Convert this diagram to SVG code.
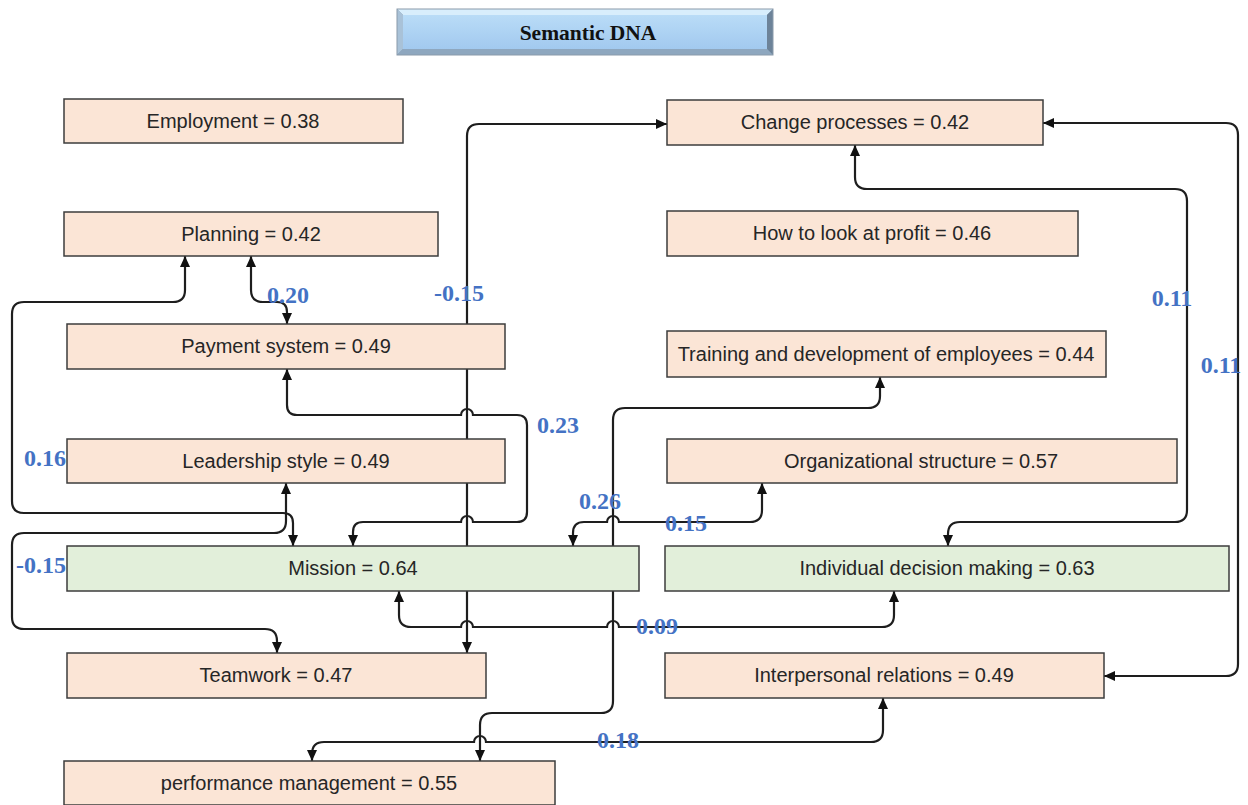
<svg xmlns="http://www.w3.org/2000/svg" width="1248" height="805" viewBox="0 0 1248 805">
<style>
.bx{fill:#fbe5d6;stroke:#3c3c3c;stroke-width:1.5}
.gr{fill:#e2efda;stroke:#3c3c3c;stroke-width:1.5}
.t{font-family:"Liberation Sans",Arial,sans-serif;font-size:20px;fill:#262626;text-anchor:middle}
.lb{font-family:"Liberation Serif","Times New Roman",serif;font-size:24px;font-weight:bold;fill:#4472c4;text-anchor:middle}
.c{fill:none;stroke:#1e1e1e;stroke-width:2.2;marker-start:url(#ah);marker-end:url(#ah)}
</style>
<defs>
<marker id="ah" markerUnits="userSpaceOnUse" markerWidth="12" markerHeight="11" refX="11" refY="5" orient="auto-start-reverse" viewBox="0 0 12 10">
<path d="M0,0 L11,5 L0,10 z" fill="#111"/>
</marker>
<linearGradient id="tg" x1="0" y1="0" x2="0" y2="1">
<stop offset="0" stop-color="#b9dcf7"/>
<stop offset="1" stop-color="#a2c9ef"/>
</linearGradient>
</defs>
<rect width="1248" height="805" fill="#fff"/>

<g id="title">
<rect x="397" y="9" width="376" height="46" fill="#7f95aa"/>
<polygon points="397,9 773,9 767,15 403,15" fill="#d8eefc"/>
<polygon points="397,9 403,15 403,49 397,55" fill="#a9c2d8"/>
<polygon points="773,9 767,15 767,49 773,55" fill="#6d8399"/>
<polygon points="397,55 403,49 767,49 773,55" fill="#8ea7bf"/>
<rect x="403" y="15" width="364" height="34" fill="url(#tg)"/>
<rect x="397" y="9" width="376" height="46" fill="none" stroke="#8a9aaa" stroke-width="1"/>
<text x="588" y="40" font-family="Liberation Serif,'Times New Roman',serif" font-size="21.5" font-weight="bold" fill="#111" text-anchor="middle">Semantic DNA</text>
</g>

<g id="connectors">
<path class="c" d="M467,653 L467,136 Q467,124 479,124 L667,124"/>
<path class="c" d="M185,256 L185,290 Q185,302 173,302 L24,302 Q12,302 12,314 L12,501 Q12,513 24,513 L283,513 Q293,513 293,523 L293,546"/>
<path class="c" d="M251,256 L251,290 Q251,302 263,302 L277,302 Q287,302 287,312 L287,324"/>
<path class="c" d="M287,369 L287,405 Q287,415 297,415 L461,415 A6,6 0 0 1 473,415 L517,415 Q527,415 527,425 L527,512 Q527,522 517,522 L473,522 A6,6 0 0 0 461,522 L363,522 Q353,522 353,532 L353,546"/>
<path class="c" d="M286,483 L286,521 Q286,533 274,533 L24,533 Q12,533 12,545 L12,617 Q12,629 24,629 L265,629 Q277,629 277,641 L277,653"/>
<path class="c" d="M880,377 L880,396 Q880,408 868,408 L625,408 Q613,408 613,420 L613,701 Q613,713 601,713 L492,713 Q480,713 480,725 L480,761"/>
<path class="c" d="M399,591 L399,615 Q399,627 411,627 L461,627 A6,6 0 0 1 473,627 L607,627 A6,6 0 0 1 619,627 L882,627 Q894,627 894,615 L894,591"/>
<path class="c" d="M573,546 L573,533 Q573,522 584,522 L607,522 A6,6 0 0 1 619,522 L750,522 Q762,522 762,510 L762,483"/>
<path class="c" d="M855,145 L855,177 Q855,189 867,189 L1175,189 Q1187,189 1187,201 L1187,510 Q1187,522 1175,522 L960,522 Q948,522 948,534 L948,546"/>
<path class="c" d="M1043,123 L1226,123 Q1238,123 1238,135 L1238,664 Q1238,676 1226,676 L1104,676"/>
<path class="c" d="M312,761 L312,754 Q312,742 324,742 L474,742 A6,6 0 0 1 486,742 L871,742 Q883,742 883,730 L883,698"/>
</g>

<g id="labels">
<text class="lb" x="288" y="303">0.20</text>
<text class="lb" x="459" y="301">-0.15</text>
<text class="lb" x="45" y="466">0.16</text>
<text class="lb" x="558" y="433">0.23</text>
<text class="lb" x="600" y="509">0.26</text>
<text class="lb" x="686" y="531">0.15</text>
<text class="lb" x="41" y="573">-0.15</text>
<text class="lb" x="657" y="634">0.09</text>
<text class="lb" x="618" y="748">0.18</text>
<text class="lb" x="1172" y="306">0.11</text>
<text class="lb" x="1221" y="373">0.11</text>
</g>

<g id="n-employment"><rect class="bx" x="64" y="99" width="339" height="44"/><text class="t" x="233" y="128">Employment = 0.38</text></g>
<g id="n-change"><rect class="bx" x="667" y="100" width="376" height="45"/><text class="t" x="855" y="129">Change processes = 0.42</text></g>
<g id="n-planning"><rect class="bx" x="64" y="212" width="374" height="44"/><text class="t" x="251" y="241">Planning = 0.42</text></g>
<g id="n-profit"><rect class="bx" x="667" y="211" width="411" height="45"/><text class="t" x="872" y="240">How to look at profit = 0.46</text></g>
<g id="n-payment"><rect class="bx" x="67" y="324" width="438" height="45"/><text class="t" x="286" y="353">Payment system = 0.49</text></g>
<g id="n-training"><rect class="bx" x="667" y="331" width="439" height="46"/><text class="t" x="886" y="361">Training and development of employees = 0.44</text></g>
<g id="n-leadership"><rect class="bx" x="67" y="439" width="438" height="44"/><text class="t" x="286" y="468">Leadership style = 0.49</text></g>
<g id="n-orgstructure"><rect class="bx" x="667" y="439" width="510" height="44"/><text class="t" x="921" y="468">Organizational structure = 0.57</text></g>
<g id="n-mission"><rect class="gr" x="67" y="546" width="572" height="45"/><text class="t" x="353" y="575">Mission = 0.64</text></g>
<g id="n-decision"><rect class="gr" x="665" y="546" width="564" height="45"/><text class="t" x="947" y="575">Individual decision making = 0.63</text></g>
<g id="n-teamwork"><rect class="bx" x="67" y="653" width="419" height="45"/><text class="t" x="276" y="682">Teamwork = 0.47</text></g>
<g id="n-interpersonal"><rect class="bx" x="665" y="653" width="439" height="45"/><text class="t" x="884" y="682">Interpersonal relations = 0.49</text></g>
<g id="n-performance"><rect class="bx" x="64" y="761" width="491" height="44"/><text class="t" x="309" y="790">performance management = 0.55</text></g>
</svg>
